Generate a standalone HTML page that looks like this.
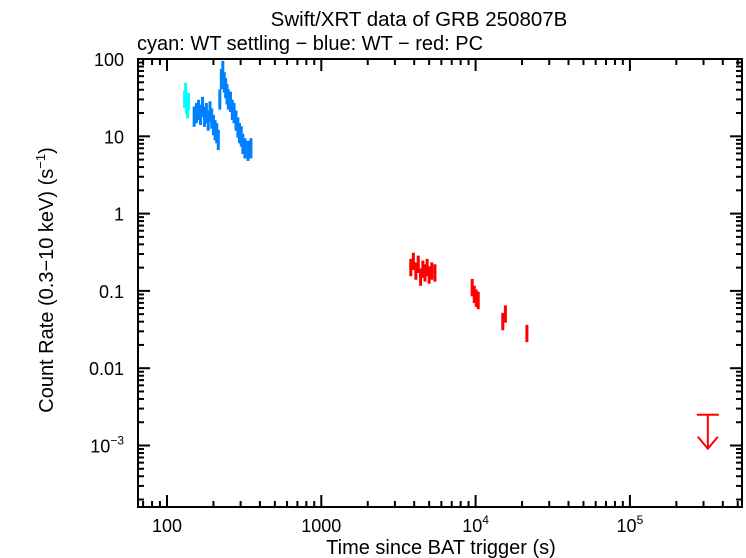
<!DOCTYPE html>
<html><head><meta charset="utf-8"><style>
body{margin:0;background:#fff}
svg{display:block;font-family:"Liberation Sans",sans-serif}
</style></head><body>
<svg id="chart" width="746" height="558">
<text x="419" y="26" font-size="20.5" text-anchor="middle">Swift/XRT data of GRB 250807B</text>
<text x="137" y="50" font-size="20">cyan: WT settling − blue: WT − red: PC</text>
<rect x="138" y="59" width="604" height="448" fill="none" stroke="#000" stroke-width="2"/>
<g id="axes"></g><g id="marks"></g>
<text x="441" y="554" font-size="20" text-anchor="middle">Time since BAT trigger (s)</text>
<text transform="translate(53,280) rotate(-90)" font-size="20" text-anchor="middle">Count Rate (0.3−10 keV) (s<tspan font-size="13" dy="-8">−1</tspan><tspan dy="8">)</tspan></text>
</svg>
<script>
const cyanT=[130,132,134,136,138];
const cyanR=[30,38,25,22,28];
const blueT=[150,155,160,165,170,175,180,185,190,195,200,205,210,215,220,225,230,235,240,245,250,258,265,272,280,288,295,303,310,320,335,350];
const blueR=[18,20,22,19,24,18,20,16,21,17,14,12,11,9,30,55,70,50,42,35,30,28,22,20,16,13,11,10,8,7,6.5,7];
const redT=[3800,3950,4100,4250,4400,4550,4700,4850,5000,5200,5450,9500,9800,10100,10400,15000,15600,21500];
const redR=[0.2,0.24,0.18,0.22,0.15,0.19,0.17,0.2,0.16,0.18,0.17,0.11,0.09,0.08,0.075,0.04,0.05,0.028];
const ulT=[320000];
const ulR=[0.0025];
const xTicks=[100,1000,10000,100000];
const xTickLabels=["100","1000","10^4","10^5"];
const yTicks=[100,10,1,0.1,0.01,0.001];
const yTickLabels=["100","10","1","0.1","0.01","10^-3"];
const NS="http://www.w3.org/2000/svg";
const X=t=>167+(Math.log10(t)-2)*154.3;
const Y=r=>59+(2-Math.log10(r))*77.3;
function mk(tag,attrs,parent){const e=document.createElementNS(NS,tag);for(const k in attrs)e.setAttribute(k,attrs[k]);parent.appendChild(e);return e;}
const ax=document.getElementById('axes'),mg=document.getElementById('marks');
function lbl(s,x,y,anchor){const t=mk('text',{x:x,y:y,'font-size':18,'text-anchor':anchor},ax);
 
 
 if(s.includes('^')){const [b,e]=s.split('^');t.textContent=b;const sp=mk('tspan',{'font-size':12,dy:-8},t);sp.textContent=e.replace('-','−');}else t.textContent=s;}
xTicks.forEach((v,i)=>{const x=X(v);
 [[507,495],[59,71]].forEach(([a,b])=>{const l=mk('line',{x1:x,x2:x,y1:a,y2:b,stroke:'#000','stroke-width':2},ax);});
 lbl(xTickLabels[i],x,532,'middle');});
for(let d=1;d<=5;d++)for(let m=2;m<=9;m++){const v=m*Math.pow(10,d);const x=X(v);if(x<138||x>742)continue;
 [[507,501],[59,65]].forEach(([a,b])=>{const l=mk('line',{x1:x,x2:x,y1:a,y2:b,stroke:'#000','stroke-width':2},ax);});}
yTicks.forEach((v,i)=>{const y=Y(v);
 [[138,150],[742,730]].forEach(([a,b])=>{const l=mk('line',{x1:a,x2:b,y1:y,y2:y,stroke:'#000','stroke-width':2},ax);});
 lbl(yTickLabels[i],124,y+7,'end');});
for(let d=-4;d<=1;d++)for(let m=2;m<=9;m++){const v=m*Math.pow(10,d);const y=Y(v);if(y<59||y>507)continue;
 [[138,144],[742,736]].forEach(([a,b])=>{const l=mk('line',{x1:a,x2:b,y1:y,y2:y,stroke:'#000','stroke-width':2},ax);});}
function series(T,R,col,ef,xf,name){T.forEach((t,i)=>{const r=R[i],x=X(t),y=Y(r);
 const g=mk('g',{},mg);
 mk('line',{x1:x,x2:x,y1:Y(r*(1+ef)),y2:Y(r*(1-ef*0.75)),stroke:col,'stroke-width':3},g);
 mk('line',{x1:X(t*(1-xf)),x2:X(t*(1+xf)),y1:y,y2:y,stroke:col,'stroke-width':3},g);});}
series(cyanT,cyanR,'#00ffff',0.3,0.008,'wt-settling');
series(blueT,blueR,'#0080ff',0.35,0.015,'wt');
series(redT,redR,'#ff0000',0.3,0.02,'pc');
ulT.forEach((t,i)=>{const x=X(t),y=Y(ulR[i]);const g=mk('g',{stroke:'#f00','stroke-width':2,fill:'none'},mg);
 
 mk('line',{x1:x-11,x2:x+11,y1:y,y2:y},g);mk('line',{x1:x,x2:x,y1:y,y2:y+34},g);
 mk('polyline',{points:`${x-10},${y+22} ${x},${y+34} ${x+10},${y+22}`},g);});
</script>
</body></html>
